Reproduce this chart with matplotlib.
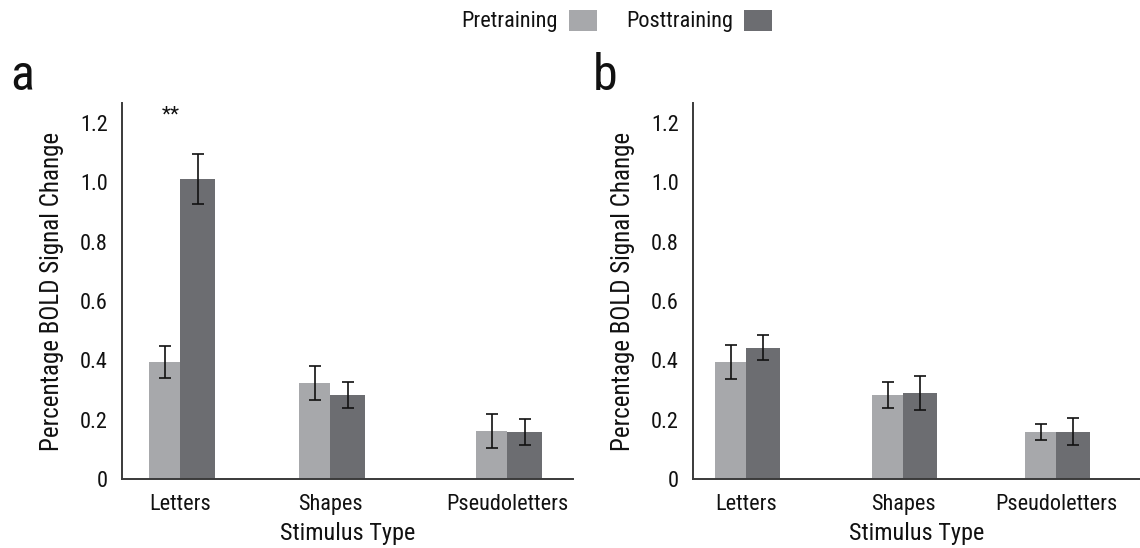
import matplotlib
matplotlib.use("Agg")
import matplotlib.pyplot as plt
from matplotlib.patches import Rectangle

plt.rcParams['font.family'] = ['Roboto Condensed', 'DejaVu Sans']

categories = ["Letters", "Shapes", "Pseudoletters"]
series_names = ["Pretraining", "Posttraining"]

a_pre = [0.395, 0.324, 0.162]
a_pre_err = [0.053, 0.057, 0.058]
a_post = [1.011, 0.283, 0.159]
a_post_err = [0.085, 0.043, 0.043]

b_pre = [0.395, 0.283, 0.159]
b_pre_err = [0.057, 0.043, 0.026]
b_post = [0.442, 0.290, 0.159]
b_post_err = [0.042, 0.057, 0.046]

yticks = [0, 0.2, 0.4, 0.6, 0.8, 1.0, 1.2]
ytick_labels = ["0", "0.2", "0.4", "0.6", "0.8", "1.0", "1.2"]

pre_color = "#a7a8ab"
post_color = "#6c6d71"
axis_color = "#3a3a3a"
text_color = "#111111"

W, H = 1140, 548
fig = plt.figure(figsize=(W / 100, H / 100), dpi=100)

def px_axes(x0, x1, y_top, y_bot):
    return fig.add_axes([x0 / W, 1 - y_bot / H, (x1 - x0) / W, (y_bot - y_top) / H])

def draw_panel(ax, pos, pre, pre_err, post, post_err, w_pre, w_post, xlim):
    ax.bar(pos, pre, width=-w_pre, align="edge", color=pre_color, zorder=2)
    ax.bar(pos, post, width=w_post, align="edge", color=post_color, zorder=2)
    xs_pre = [p - w_pre / 2 for p in pos]
    xs_post = [p + w_post / 2 for p in pos]
    ekw = dict(fmt="none", ecolor="#111111", elinewidth=1.2, capsize=4.3, capthick=1.2, zorder=3)
    ax.errorbar(xs_pre, pre, yerr=pre_err, **ekw)
    ax.errorbar(xs_post, post, yerr=post_err, **ekw)
    ax.set_xlim(*xlim)
    ax.set_ylim(0, 1.268)
    ax.set_yticks(yticks)
    ax.set_yticklabels(ytick_labels)
    ax.set_xticks(pos)
    ax.set_xticklabels(categories)
    ax.tick_params(axis="both", length=0, labelsize=16, colors=text_color)
    ax.tick_params(axis="x", pad=11)
    ax.tick_params(axis="y", pad=10)
    for s in ["top", "right"]:
        ax.spines[s].set_visible(False)
    for s in ["left", "bottom"]:
        ax.spines[s].set_color(axis_color)
        ax.spines[s].set_linewidth(1.4)
    ax.set_ylabel("Percentage BOLD Signal Change", fontsize=18, labelpad=12, color=text_color)
    ax.set_xlabel("Stimulus Type", fontsize=17.5, labelpad=5, color=text_color)

# panel a  (x units: 1 unit = 150 px)
ax_a = px_axes(122, 573, 103, 479)
pos_a = [0, 1, 2.18]
draw_panel(ax_a, pos_a, a_pre, a_pre_err, a_post, a_post_err, 31 / 150, 35 / 150,
           (-58 / 150, 393 / 150))
ax_a.text(-9 / 150, 1.228, "**", ha="center", va="center", fontsize=15, color=text_color)

# panel b  (x units: 1 unit = 157 px)
ax_b = px_axes(693, 1140, 103, 479)
pos_b = [0, 1, 310 / 157]
draw_panel(ax_b, pos_b, b_pre, b_pre_err, b_post, b_post_err, 31 / 157, 34 / 157,
           (-53 / 157, 394 / 157))

# panel letters
fig.text(10 / W, 1 - 90 / H, "a", fontsize=36, ha="left", va="baseline", color=text_color)
fig.text(593 / W, 1 - 90 / H, "b", fontsize=36, ha="left", va="baseline", color=text_color)

# legend
ly = 1 - 27 / H
fig.text(558 / W, ly, series_names[0], fontsize=16, ha="right", va="baseline", color=text_color)
fig.patches.append(Rectangle((569 / W, 1 - 31 / H), 28 / W, 21 / H, transform=fig.transFigure,
                             facecolor=pre_color, edgecolor="none"))
fig.text(733 / W, ly, series_names[1], fontsize=16, ha="right", va="baseline", color=text_color)
fig.patches.append(Rectangle((744 / W, 1 - 31 / H), 28 / W, 21 / H, transform=fig.transFigure,
                             facecolor=post_color, edgecolor="none"))

fig.savefig("out.png", dpi=100)
